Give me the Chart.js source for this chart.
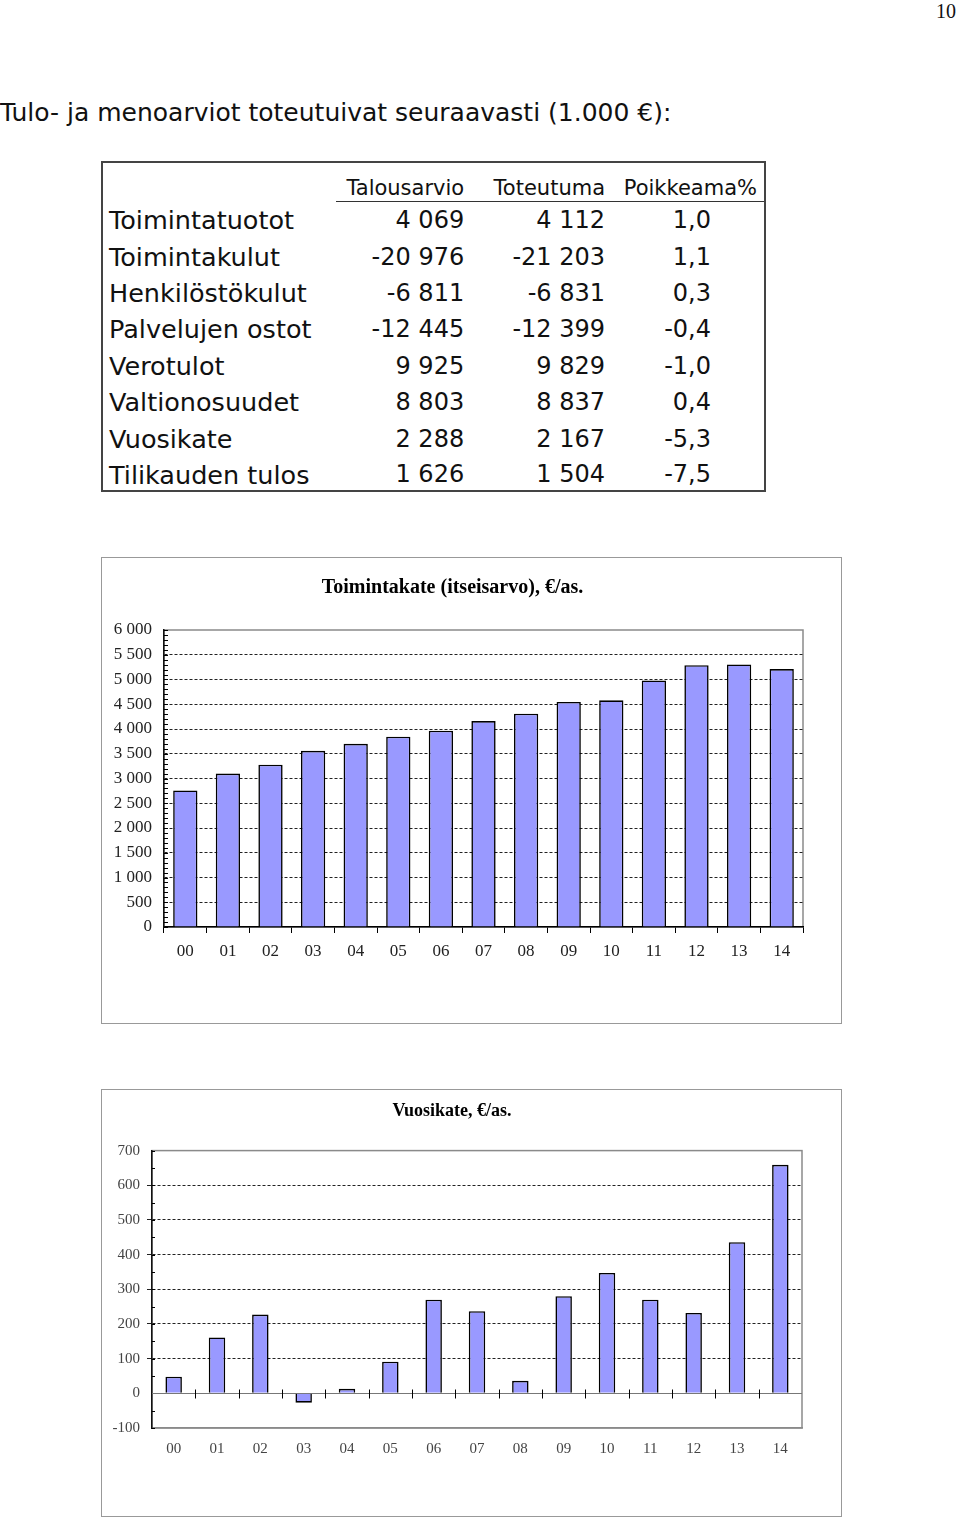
<!DOCTYPE html>
<html lang="fi">
<head>
<meta charset="utf-8">
<title>Tulo- ja menoarviot</title>
<script src="https://cdn.jsdelivr.net/npm/chart.js@4.4.1/dist/chart.umd.min.js"></script>
<style>
  html, body { margin: 0; padding: 0; background: #fff; }
  body { position: relative; width: 960px; height: 1517px; overflow: hidden; font-family: "DejaVu Sans", sans-serif; color: #111; }
  #page-no { position: absolute; right: 4px; top: 0; font: 20px "Liberation Serif", serif; }
  #heading { position: absolute; left: 0; top: 98px; font-size: 25px; white-space: nowrap; }
  #budget { position: absolute; left: 101px; top: 161px; width: 665px; border: 2px solid #444; border-collapse: collapse; box-sizing: border-box; }
  #budget td, #budget th { padding: 0; white-space: nowrap; font-weight: normal; }
  #budget thead th { height: 37px; vertical-align: bottom; font-size: 21px; padding-bottom: 1px; text-align: right; border-bottom: 1.5px solid #333; }
  #budget thead th:first-child { border-bottom: none; }
  #budget tbody td { height: 36.4px; font-size: 24px; text-align: right; }
  #budget tbody tr:last-child td { height: 29px; vertical-align: top; padding-top: 3px; }
  #budget tbody td:first-child { text-align: left; padding-left: 6px; font-size: 25.5px; }
  .c1 { width: 233px; } .c2 { width: 130px; } .c3 { width: 140px; } .c4 { width: 156px; }
  #budget .r2 { padding-right: 3px; } #budget .r3 { padding-right: 3px; }
  #budget th.r4 { padding-right: 7px; } #budget td.r4 { padding-right: 53px; }
  .frame { position: absolute; border: 1px solid #999; background: #fff; }
  #frame1 { left: 101px; top: 557px; width: 739px; height: 465px; }
  #frame2 { left: 101px; top: 1089px; width: 739px; height: 426px; }
  .frame canvas { display: block; }
</style>
</head>
<body>

<div id="page-no">10</div>
<div id="heading">Tulo- ja menoarviot toteutuivat seuraavasti (1.000 €):</div>

<table id="budget">
  <colgroup><col class="c1"><col class="c2"><col class="c3"><col class="c4"></colgroup>
  <thead><tr><th></th><th class="r2">Talousarvio</th><th class="r3">Toteutuma</th><th class="r4">Poikkeama%</th></tr></thead>
  <tbody id="budget-body"></tbody>
</table>

<div class="frame" id="frame1"><canvas id="chart1" width="739" height="465"></canvas></div>
<div class="frame" id="frame2"><canvas id="chart2" width="739" height="426"></canvas></div>

<script>
/* ── data ────────────────────────────────────────────────── */

const ROW_LABELS  = ["Toimintatuotot","Toimintakulut","Henkilöstökulut","Palvelujen ostot","Verotulot","Valtionosuudet","Vuosikate","Tilikauden tulos"];
const TALOUSARVIO = ["4 069","-20 976","-6 811","-12 445","9 925","8 803","2 288","1 626"];
const TOTEUTUMA   = ["4 112","-21 203","-6 831","-12 399","9 829","8 837","2 167","1 504"];
const POIKKEAMA   = ["1,0","1,1","0,3","-0,4","-1,0","0,4","-5,3","-7,5"];

const YEARS        = ["00","01","02","03","04","05","06","07","08","09","10","11","12","13","14"];
const TOIMINTAKATE = [2760, 3100, 3280, 3560, 3700, 3845, 3965, 4160, 4310, 4545, 4580, 4980, 5290, 5305, 5210];
const VUOSIKATE    = [48, 161, 227, -27, 13, 91, 270, 237, 36, 280, 347, 270, 232, 436, 659];

const BAR_FILL   = "#9999ff";
const SERIF      = "'Liberation Serif', 'DejaVu Serif', serif";

/* ── table ───────────────────────────────────────────────── */

document.getElementById("budget-body").innerHTML = ROW_LABELS.map((label, i) => `
  <tr>
    <td>${label}</td>
    <td class="r2">${TALOUSARVIO[i]}</td>
    <td class="r3">${TOTEUTUMA[i]}</td>
    <td class="r4">${POIKKEAMA[i]}</td>
  </tr>`).join("");

/* ── helpers ─────────────────────────────────────────────── */

function fmtThousands(v) {
  const s = Math.abs(v).toString().replace(/\B(?=(\d{3})+(?!\d))/g, " ");
  return (v < 0 ? "-" : "") + s;
}

// grey frame round the plot, zero line, minor ticks and boundary ticks
const plotDecor = {
  id: "plotDecor",
  beforeDraw(chart, args, opts) {
    const { ctx, chartArea: a } = chart;
    ctx.save();
    ctx.strokeStyle = "#8a8a8a";
    ctx.lineWidth = 1.5;
    ctx.strokeRect(a.left, a.top, a.right - a.left, a.bottom - a.top);
    ctx.restore();
  },
  beforeDatasetsDraw(chart, args, opts) {
    const { ctx, chartArea: a, scales: { x, y } } = chart;
    ctx.save();
    ctx.strokeStyle = "#000";
    ctx.lineWidth = 1;
    for (let v = y.min; v <= y.max; v += opts.minorStep) {
      const py = Math.round(y.getPixelForValue(v)) + 0.5;
      ctx.beginPath();
      ctx.moveTo(a.left, py);
      ctx.lineTo(a.left + opts.minorLen, py);
      ctx.stroke();
    }
    if (opts.zeroLine) {
      const zy = Math.round(y.getPixelForValue(0)) + 0.5;
      ctx.strokeStyle = "#777";
      ctx.beginPath();
      ctx.moveTo(a.left, zy);
      ctx.lineTo(a.right, zy);
      ctx.stroke();
      ctx.strokeStyle = "#000";
      for (let i = 1; i < YEARS.length; i++) {
        const px = Math.round((x.getPixelForValue(i - 1) + x.getPixelForValue(i)) / 2) + 0.5;
        ctx.beginPath();
        ctx.moveTo(px, zy - 4);
        ctx.lineTo(px, zy + 5);
        ctx.stroke();
      }
    }
    ctx.restore();
  },
};

function makeBarChart(canvas, cfg) {
  return new Chart(canvas, {
    type: "bar",
    data: {
      labels: YEARS,
      datasets: [{
        data: cfg.values,
        backgroundColor: BAR_FILL,
        borderColor: "#000",
        borderWidth: 1.6,
        categoryPercentage: 1,
        barPercentage: cfg.barPct,
      }],
    },
    plugins: [plotDecor],
    options: {
      responsive: false,
      animation: false,
      layout: { padding: cfg.padding },
      plugins: {
        legend: { display: false },
        tooltip: { enabled: false },
        title: {
          display: true,
          text: cfg.title,
          color: "#000",
          font: { family: SERIF, size: cfg.titleSize, weight: "bold" },
          padding: cfg.titlePad,
        },
        plotDecor: cfg.decor,
      },
      scales: {
        x: {
          afterFit: s => { s.height = 36; },
          grid: {
            display: cfg.xTicks,
            drawOnChartArea: false,
            drawTicks: cfg.xTicks,
            tickLength: 6,
            color: "#000",
          },
          border: { display: true, color: cfg.xBorder, width: 1.5 },
          ticks: {
            color: cfg.tickColor,
            autoSkip: false,
            maxRotation: 0,
            padding: cfg.xTickPad,
            font: { family: SERIF, size: cfg.tickSize },
          },
        },
        y: {
          min: cfg.min,
          max: cfg.max,
          afterFit: s => { s.width = cfg.yWidth; },
          grid: {
            drawTicks: cfg.yTickLen > 0,
            tickLength: cfg.yTickLen,
            color: ctx => (ctx.tick && (ctx.tick.value === cfg.min || ctx.tick.value === cfg.max || ctx.tick.value === 0))
              ? "rgba(0,0,0,0)" : "#222",
          },
          border: { display: true, color: "#111", width: 1.5, dash: [3, 2] },
          ticks: {
            stepSize: cfg.step,
            color: cfg.tickColor,
            padding: cfg.yTickPad,
            font: { family: SERIF, size: cfg.tickSize },
            callback: v => fmtThousands(v),
          },
        },
      },
    },
  });
}

/* ── charts ──────────────────────────────────────────────── */

makeBarChart(document.getElementById("chart1"), {
  values: TOIMINTAKATE,
  title: "Toimintakate (itseisarvo), €/as.",
  titleSize: 20,
  titlePad: { top: 18, bottom: 30 },
  padding: { left: 0, right: 38, top: 0, bottom: 60 },
  barPct: 0.57,
  min: 0, max: 6000, step: 500,
  yWidth: 62, yTickLen: 0, yTickPad: 12, xTickPad: 8, xTicks: true,
  xBorder: "#000",
  tickSize: 17, tickColor: "#222",
  decor: { minorStep: 100, minorLen: 4, zeroLine: false },
});

makeBarChart(document.getElementById("chart2"), {
  values: VUOSIKATE,
  title: "Vuosikate, €/as.",
  titleSize: 18,
  titlePad: { top: 11, bottom: 28 },
  padding: { left: 0, right: 39, top: 0, bottom: 52 },
  barPct: 0.38,
  min: -100, max: 700, step: 100,
  yWidth: 50, yTickLen: 5, yTickPad: 7, xTickPad: 12, xTicks: false,
  xBorder: "#8a8a8a",
  tickSize: 15, tickColor: "#444",
  decor: { minorStep: 50, minorLen: 3, zeroLine: true },
});
</script>
</body>
</html>
